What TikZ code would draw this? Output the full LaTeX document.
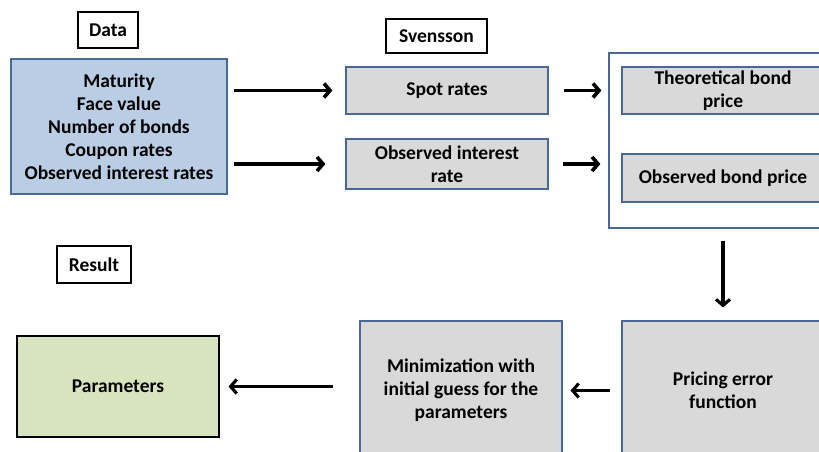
\documentclass[tikz,border=0pt]{standalone}
\usepackage{fontspec}
\setmainfont{Carlito}
\usetikzlibrary{arrows.meta}
\definecolor{boxgray}{HTML}{D9D9D9}
\definecolor{boxblue}{HTML}{B9CDE5}
\definecolor{boxgreen}{HTML}{D7E4BD}
\definecolor{edgeblue}{HTML}{4A6894}
\begin{document}
\begin{tikzpicture}[
  x=1pt, y=-1pt,
  font=\fontsize{19.5}{23}\selectfont\bfseries,
  box/.style={draw=edgeblue, line width=1.2pt, align=center, inner sep=0pt},
  gbox/.style={box, fill=boxgray},
  tag/.style={draw=black, line width=1.5pt, fill=white, inner sep=0pt},
  arr/.style={-{Straight Barb[length=6pt,width=14pt]}, line width=3.6pt},
  tarr/.style={-{Straight Barb[length=6pt,width=14pt]}, line width=3.1pt}
]
\useasboundingbox (0,0) rectangle (819,452);
\clip (0,0) rectangle (819,452);

% labels
\node[tag, minimum width=60pt, minimum height=36pt] (datatag) at (108,30) {Data};
\node[tag, minimum width=101pt, minimum height=34pt] (svtag) at (436.5,36) {Svensson};
\node[tag, minimum width=74pt, minimum height=37pt] (restag) at (94,264.5) {Result};

% top row
\node[box, fill=boxblue, minimum width=216pt, minimum height=135pt] (data) at (119,126.5)
  {Maturity\\Face value\\Number of bonds\\Coupon rates\\Observed interest rates};
\node[gbox, minimum width=202pt, minimum height=47pt] (spot) at (447,90.5) {Spot rates};
\node[gbox, minimum width=202pt, minimum height=50pt] (obsir) at (447,164) {Observed interest\\rate};
\node[box, fill=white, minimum width=226pt, minimum height=175pt] (cont) at (722,140.5) {};
\node[gbox, minimum width=202pt, minimum height=47pt] (theo) at (723,90.5) {Theoretical bond\\price};
\node[gbox, minimum width=202pt, minimum height=48pt] (obp) at (723,178) {Observed bond price};

% bottom row
\node[box, draw=black, fill=boxgreen, minimum width=202pt, minimum height=101pt] (params) at (118,386.5) {Parameters};
\node[gbox, minimum width=202pt, minimum height=139pt] (minim) at (461,390.5)
  {Minimization with\\initial guess for the\\parameters};
\node[gbox, minimum width=202pt, minimum height=139pt] (pricing) at (723,390.5) {Pricing error\\function};

% arrows
\draw[arr, shorten <=6pt, shorten >=13pt] (data.east |- spot.west) -- (spot.west);
\draw[arr, shorten <=6pt, shorten >=20pt] (data.east |- obsir.west) -- (obsir.west);
\draw[arr, shorten <=15pt, shorten >=20pt] (spot.east) -- (theo.west);
\draw[arr, shorten <=14pt, shorten >=8pt] (obsir.east) -- (cont.west |- obsir.east);
\draw[tarr, shorten <=12pt, shorten >=13pt] (cont.south -| pricing.north) -- (pricing.north);
\draw[tarr, shorten <=11pt, shorten >=8pt] (pricing.west) -- (minim.east);
\draw[tarr, shorten <=26pt, shorten >=9pt] (minim.west |- params.east) -- (params.east);
\end{tikzpicture}
\end{document}
